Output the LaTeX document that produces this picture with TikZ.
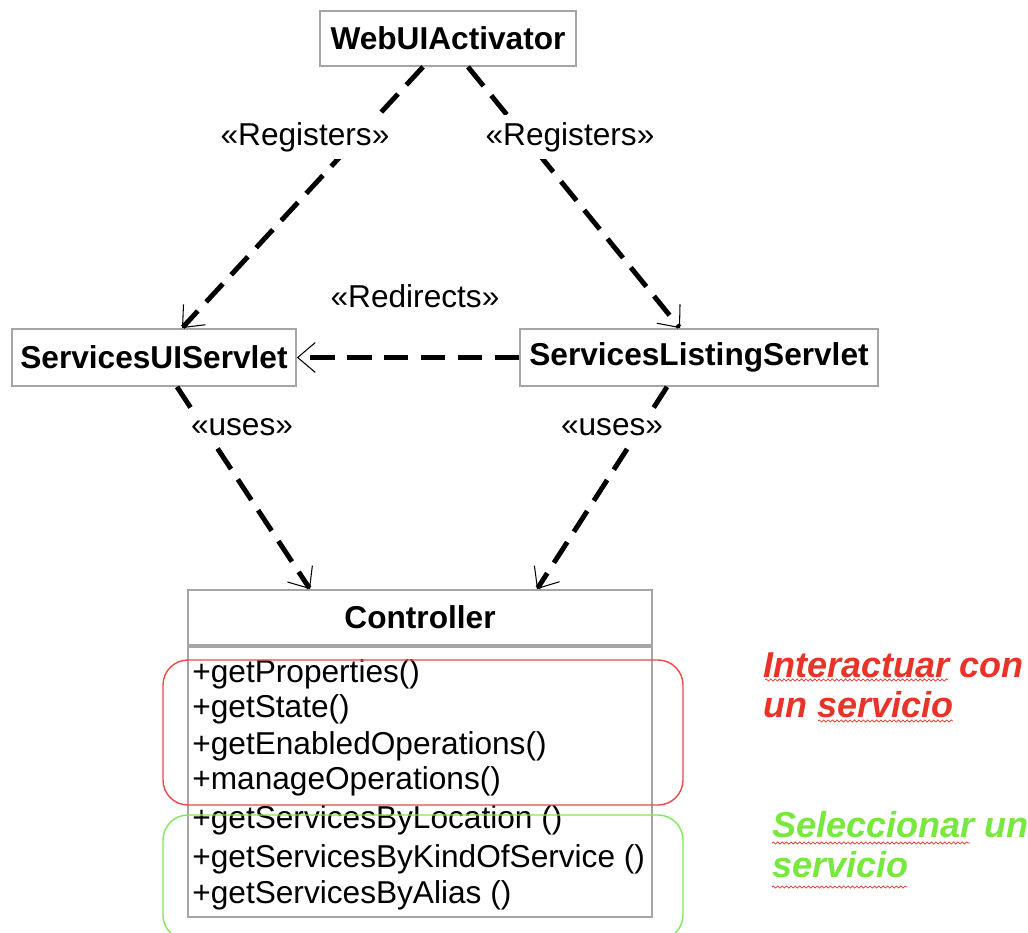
\documentclass[tikz,border=0pt]{standalone}
\usepackage{fontspec}
\setmainfont{Liberation Sans}
\usetikzlibrary{positioning, arrows.meta, decorations.pathmorphing}

\definecolor{boxgray}{RGB}{165,165,165}
\definecolor{notered}{RGB}{232,52,40}
\definecolor{notegreen}{RGB}{118,232,62}
\definecolor{framered}{RGB}{238,72,72}
\definecolor{framegreen}{RGB}{128,232,88}

\tikzset{
    classbox/.style = {draw = boxgray, line width = 1pt, fill = white, inner sep = 0pt,
        font = \fontsize{18}{21}\selectfont\bfseries},
    depends/.style = {line width = 2.8pt, dash pattern = on 14pt off 7pt,
        -{Straight Barb[length = 10pt, width = 17pt, line width = 0.6pt]}},
    stereo/.style = {fill = white, inner xsep = 1.5pt, inner ysep = 4pt, font = \fontsize{18}{21}\selectfont},
    method/.style = {anchor = base west, inner sep = 0pt, font = \fontsize{18}{21}\selectfont},
    note/.style = {anchor = base west, inner sep = 0pt,
        font = \fontsize{20.5}{24}\selectfont\bfseries\itshape},
    squiggle/.style = {draw = notered, line width = 0.4pt, decorate,
        decoration = {snake, amplitude = 0.6pt, segment length = 2.5pt}}
}

\begin{document}
\begin{tikzpicture}
    \useasboundingbox (+0.000, +0.000) rectangle (+20.560, -18.660);

    % === Classes ===
    \node[classbox, minimum width = 5.12cm, minimum height = 1.10cm] (web) at (+8.960, -0.770) {WebUIActivator};
    \node[classbox, minimum width = 5.68cm, minimum height = 1.14cm] (uiservlet) at (+3.080, -7.150) {ServicesUIServlet};
    \node[classbox, minimum width = 7.16cm, minimum height = 1.14cm] (listing) at (+13.980, -7.150) {ServicesListingServlet};

    % Controller (header and operations)
    \node[classbox, minimum width = 9.28cm, minimum height = 1.10cm] (ctrl) at (+8.400, -12.350) {Controller};
    \node[classbox, minimum width = 9.28cm, minimum height = 5.40cm, below = 0pt of ctrl] (ctrlops) {};

    % === Dependencies ===
    \draw[depends] ([xshift = -0.50cm]web.south) -- ([xshift = +0.56cm]uiservlet.north);
    \draw[depends] ([xshift = +0.40cm]web.south) -- ([xshift = -0.38cm]listing.north);
    \draw[depends] (listing.west) -- (uiservlet.east);
    \draw[depends] ([xshift = +0.46cm]uiservlet.south) -- ([xshift = -2.20cm]ctrl.north);
    \draw[depends] ([xshift = -0.64cm]listing.south) -- ([xshift = +2.34cm]ctrl.north);

    % Stereotypes (drawn over the dashed lines)
    \node[stereo] (regleft) at (+6.100, -2.740) {«Registers»};
    \node[stereo] (regright) at (+11.400, -2.740) {«Registers»};
    \node[stereo] (redirects) at (+8.300, -5.920) {«Redirects»};
    \node[stereo] (usesleft) at (+4.840, -8.540) {«uses»};
    \node[stereo] (usesright) at (+12.240, -8.540) {«uses»};

    % === Operations of the controller ===
    \node[method] (opprops) at (+3.840, -13.640) {+getProperties()};
    \node[method] (opstate) at (+3.840, -14.340) {+getState()};
    \node[method] (openabled) at (+3.840, -15.080) {+getEnabledOperations()};
    \node[method] (opmanage) at (+3.840, -15.780) {+manageOperations()};
    \node[method] (oplocation) at (+3.840, -16.560) {+getServicesByLocation ()};
    \node[method] (opkind) at (+3.840, -17.340) {+getServicesByKindOfService ()};
    \node[method] (opalias) at (+3.840, -18.060) {+getServicesByAlias ()};

    % Groups
    \draw[framered, line width = 0.8pt, rounded corners = 0.5cm] (+3.260, -13.200) rectangle (+13.660, -16.100);
    \draw[framegreen, line width = 0.8pt, rounded corners = 0.5cm] (+3.260, -16.300) rectangle (+13.660, -18.800);

    % === Notes on the right ===
    \node[note, text = notered] (noteinteract) at (+15.260, -13.540) {Interactuar con};
    \node[note, text = notered] (noteinteractb) at (+15.260, -14.340) {un servicio};
    \node[note, text = notegreen] (noteselect) at (+15.440, -16.740) {Seleccionar un};
    \node[note, text = notegreen] (noteselectb) at (+15.440, -17.540) {servicio};

    % Spelling marks
    \path[squiggle] (+15.300, -13.600) -- (+18.960, -13.600);
    \path[squiggle] (+16.360, -14.420) -- (+19.060, -14.420);
    \path[squiggle] (+15.440, -16.860) -- (+19.400, -16.860);
    \path[squiggle] (+15.440, -17.740) -- (+18.140, -17.740);
\end{tikzpicture}
\end{document}
